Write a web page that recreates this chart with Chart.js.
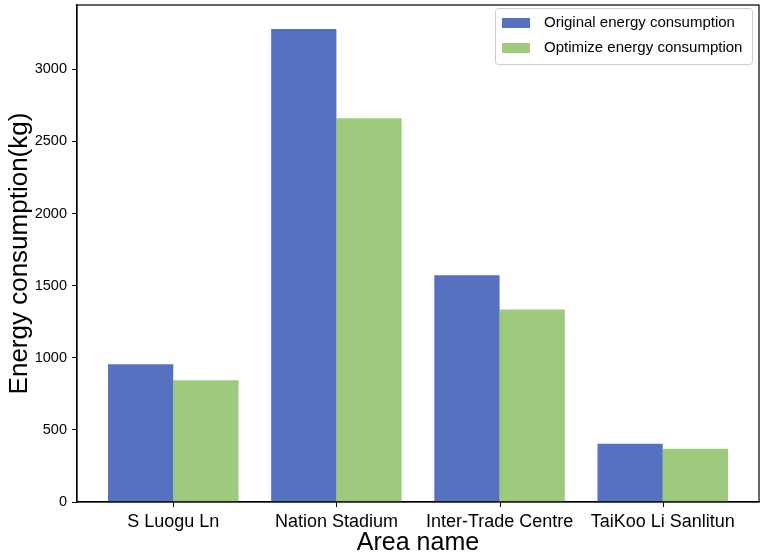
<!DOCTYPE html>
<html>
<head>
<meta charset="utf-8">
<script src="https://cdn.jsdelivr.net/npm/chart.js@4.4.0/dist/chart.umd.min.js"></script>
<style>
  html, body { margin: 0; padding: 0; background: #fff; }
  #wrap { width: 765px; height: 559px; }
</style>
</head>
<body>
<div id="wrap"><canvas id="energyChart" width="765" height="559"></canvas></div>
<script>
// Données du graphique
const categories = ['S Luogu Ln', 'Nation Stadium', 'Inter-Trade Centre', 'TaiKoo Li Sanlitun'];
const originalValues = [955, 3280, 1572, 404];
const optimizedValues = [844, 2661, 1334, 370];
const seriesLabels = ['Original energy consumption', 'Optimize energy consumption'];
const yTickValues = [0, 500, 1000, 1500, 2000, 2500, 3000];

const FONT = '"Liberation Sans", Arial, sans-serif';

// Cadre autour de la zone de tracé
const framePlugin = {
    id: 'frame',
    afterDraw(chart) {
        const { ctx, chartArea } = chart;
        ctx.save();
        ctx.strokeStyle = '#000';
        ctx.lineWidth = 1.2;
        ctx.strokeRect(chartArea.left, chartArea.top, chartArea.right - chartArea.left, chartArea.bottom - chartArea.top);
        // petites graduations sous l'axe des x
        const xScale = chart.scales.x;
        ctx.lineWidth = 1;
        categories.forEach((c, i) => {
            const px = Math.round(xScale.getPixelForValue(i)) + 0.5;
            ctx.beginPath();
            ctx.moveTo(px, chartArea.bottom);
            ctx.lineTo(px, chartArea.bottom + 5);
            ctx.stroke();
        });
        ctx.restore();
    }
};

// Légende dans le coin supérieur droit
const legendPlugin = {
    id: 'boxLegend',
    afterDraw(chart) {
        const { ctx, chartArea } = chart;
        const w = 257, h = 56;
        const x = chartArea.right - 7 - w;
        const y = chartArea.top + 3;
        ctx.save();
        ctx.fillStyle = 'rgba(255,255,255,0.8)';
        ctx.strokeStyle = '#cccccc';
        ctx.lineWidth = 1;
        ctx.beginPath();
        ctx.roundRect(x + 0.5, y + 0.5, w, h, 3);
        ctx.fill();
        ctx.stroke();
        ctx.font = '15px ' + FONT;
        ctx.textBaseline = 'middle';
        chart.data.datasets.forEach((ds, i) => {
            const rowY = y + 15 + i * 25;
            ctx.fillStyle = ds.backgroundColor;
            ctx.fillRect(x + 7, rowY - 5, 28, 10);
            ctx.fillStyle = '#000';
            ctx.fillText(ds.label, x + 49, rowY);
        });
        ctx.restore();
    }
};

document.addEventListener('DOMContentLoaded', function() {
    const ctx = document.getElementById('energyChart').getContext('2d');
    new Chart(ctx, {
        type: 'bar',
        data: {
            datasets: [
                {
                    label: seriesLabels[0],
                    data: originalValues.map((v, i) => ({ x: i, y: v })),
                    backgroundColor: '#5771c1',
                    borderWidth: 0
                },
                {
                    label: seriesLabels[1],
                    data: optimizedValues.map((v, i) => ({ x: i, y: v })),
                    backgroundColor: '#9eca7e',
                    borderWidth: 0
                }
            ]
        },
        options: {
            responsive: false,
            animation: false,
            categoryPercentage: 0.8,
            barPercentage: 1.0,
            layout: { padding: { top: 5, right: 6, left: 0, bottom: 0 } },
            plugins: {
                legend: { display: false },
                tooltip: { enabled: false }
            },
            scales: {
                x: {
                    type: 'linear',
                    min: -0.59,
                    max: 3.59,
                    offset: false,
                    afterBuildTicks: (axis) => { axis.ticks = categories.map((c, i) => ({ value: i })); },
                    afterFit: (scale) => {
                        scale.height = 57;
                        scale.paddingLeft = 0;
                        scale.paddingRight = 0;
                    },
                    grid: { display: false },
                    border: { display: true, color: '#000', width: 1.2 },
                    ticks: {
                        color: '#000',
                        font: { family: FONT, size: 18 },
                        padding: 1,
                        maxRotation: 0,
                        autoSkip: false,
                        callback: (value, index) => categories[index]
                    },
                    title: {
                        display: true,
                        text: 'Area name',
                        color: '#000',
                        font: { family: FONT, size: 25 },
                        padding: { top: 0, bottom: 1 }
                    }
                },
                y: {
                    min: 0,
                    max: 3446,
                    afterBuildTicks: (axis) => { axis.ticks = yTickValues.map(v => ({ value: v })); },
                    afterFit: (scale) => {
                        scale.width = 77;
                        scale.paddingTop = 0;
                        scale.paddingBottom = 0;
                    },
                    grid: { drawOnChartArea: false, drawTicks: true, tickLength: 5, color: '#000', lineWidth: 1 },
                    border: { display: true, color: '#000', width: 1.2 },
                    ticks: {
                        color: '#000',
                        font: { family: FONT, size: 14.5 },
                        padding: 5,
                        callback: (value) => String(value)
                    },
                    title: {
                        display: true,
                        text: 'Energy consumption(kg)',
                        color: '#000',
                        font: { family: FONT, size: 26 }
                    }
                }
            }
        },
        plugins: [framePlugin, legendPlugin]
    });
});
</script>
</body>
</html>
